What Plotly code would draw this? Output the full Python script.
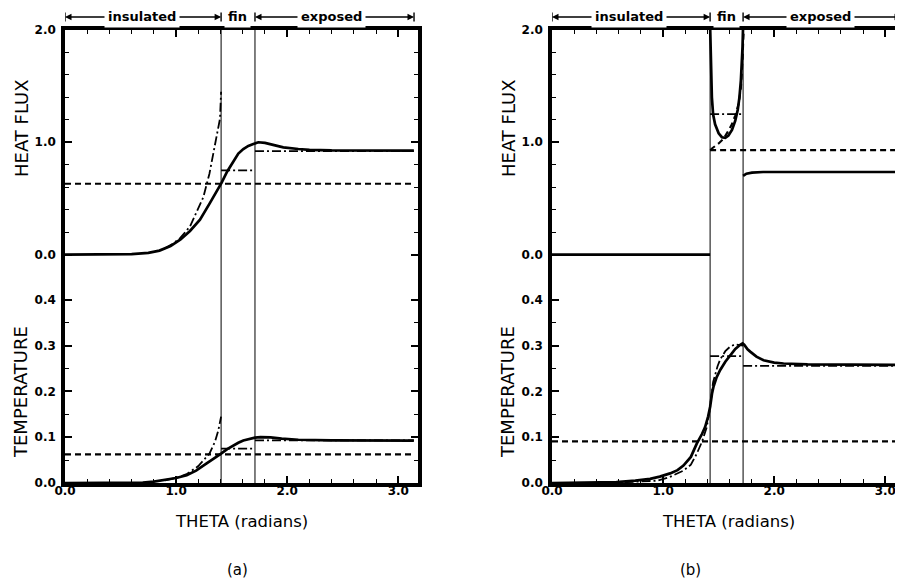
import plotly.graph_objects as go

# ---------------- data (theta in radians) ----------------
fin_edges_a = [1.405, 1.71]
fin_edges_b = [1.423, 1.72]
theta_end = 3.1416

# Panel (a) - heat flux
a_flux_solid_theta = [0.0, 0.3, 0.6, 0.75, 0.85, 0.95, 1.04, 1.125, 1.215, 1.305, 1.41, 1.46, 1.515,
                      1.56, 1.605, 1.65, 1.695, 1.74, 1.8, 1.88, 1.965, 2.1, 2.2, 2.4, 2.7, 3.14]
a_flux_solid = [0.0, 0.0, 0.003, 0.015, 0.035, 0.075, 0.135, 0.21, 0.31, 0.46, 0.64, 0.74, 0.835,
                0.9, 0.94, 0.968, 0.985, 1.0, 0.995, 0.975, 0.955, 0.94, 0.932, 0.927, 0.925, 0.925]
a_flux_dashed_theta = [0.0, 3.14]
a_flux_dashed = [0.63, 0.63]
a_flux_dd_ins_theta = [0.9, 0.97, 1.04, 1.125, 1.185, 1.245, 1.3, 1.35, 1.395, 1.405]
a_flux_dd_ins = [0.055, 0.095, 0.15, 0.25, 0.38, 0.51, 0.72, 0.97, 1.21, 1.45]
a_flux_dd_fin_theta = [1.405, 1.71]
a_flux_dd_fin = [0.75, 0.75]
a_flux_dd_exp_theta = [1.71, 3.14]
a_flux_dd_exp = [0.922, 0.922]

# Panel (a) - temperature
a_temp_solid_theta = [0.0, 0.5, 0.7, 0.8, 0.915, 1.0, 1.095, 1.18, 1.275, 1.34, 1.405, 1.46, 1.515,
                      1.56, 1.605, 1.66, 1.71, 1.76, 1.85, 1.95, 2.1, 2.4, 3.14]
a_temp_solid = [0.0, 0.0, 0.001, 0.003, 0.007, 0.011, 0.017, 0.027, 0.043, 0.053, 0.064, 0.074, 0.082,
                0.088, 0.093, 0.097, 0.099, 0.1, 0.0995, 0.097, 0.0945, 0.093, 0.0925]
a_temp_dashed_theta = [0.0, 3.14]
a_temp_dashed = [0.0625, 0.0625]
a_temp_dd_ins_theta = [0.9, 1.0, 1.1, 1.2, 1.3, 1.35, 1.38, 1.405]
a_temp_dd_ins = [0.006, 0.011, 0.02, 0.037, 0.064, 0.09, 0.115, 0.145]
a_temp_dd_fin_theta = [1.405, 1.71]
a_temp_dd_fin = [0.075, 0.075]
a_temp_dd_exp_theta = [1.71, 3.14]
a_temp_dd_exp = [0.093, 0.093]

# Panel (b) - heat flux
b_flux_solid_ins_theta = [0.0, 1.423]
b_flux_solid_ins = [0.0, 0.0]
b_flux_solid_fin_theta = [1.424, 1.43, 1.439, 1.45, 1.468, 1.5, 1.529, 1.56, 1.588, 1.62, 1.649,
                          1.672, 1.687, 1.7, 1.709, 1.715, 1.719]
b_flux_solid_fin = [2.0, 1.65, 1.40, 1.25, 1.16, 1.08, 1.045, 1.04, 1.06, 1.11, 1.19,
                    1.29, 1.40, 1.55, 1.70, 1.85, 2.0]
b_flux_solid_exp_theta = [1.72, 1.75, 1.8, 1.9, 2.1, 3.2]
b_flux_solid_exp = [0.70, 0.72, 0.73, 0.735, 0.735, 0.735]
b_flux_dashed_theta = [1.423, 3.2]
b_flux_dashed = [0.93, 0.93]
b_flux_dashed_fin_theta = [1.425, 1.44, 1.5, 1.543, 1.58, 1.619, 1.65, 1.68, 1.70, 1.709, 1.716,
                           1.721, 1.726]
b_flux_dashed_fin = [0.93, 0.945, 0.99, 1.03, 1.09, 1.16, 1.24, 1.34, 1.48, 1.61, 1.75, 1.9, 2.0]
b_flux_dd_fin_theta = [1.423, 1.72]
b_flux_dd_fin = [1.25, 1.25]

# Panel (b) - temperature
b_temp_solid_theta = [0.0, 0.3, 0.58, 0.75, 0.883, 0.97, 1.063, 1.13, 1.183, 1.25, 1.303, 1.35, 1.378,
                      1.405, 1.423, 1.44, 1.453, 1.48, 1.514, 1.56, 1.604, 1.65, 1.694, 1.715, 1.73,
                      1.76, 1.784, 1.84, 1.904, 2.0, 2.084, 2.3, 3.2]
b_temp_solid = [0.0, 0.0005, 0.002, 0.005, 0.009, 0.014, 0.021, 0.028, 0.038, 0.057, 0.086, 0.107, 0.122,
                0.145, 0.166, 0.195, 0.21, 0.23, 0.247, 0.265, 0.28, 0.293, 0.302, 0.305, 0.302,
                0.292, 0.287, 0.276, 0.268, 0.263, 0.261, 0.259, 0.258]
b_temp_dashed_theta = [0.0, 3.2]
b_temp_dashed = [0.091, 0.091]
b_temp_dd_theta = [0.5, 0.943, 1.05, 1.183, 1.25, 1.303, 1.35, 1.393, 1.423, 1.45, 1.49, 1.514,
                   1.56, 1.604, 1.65, 1.69, 1.72]
b_temp_dd = [0.0, 0.005, 0.012, 0.027, 0.04, 0.064, 0.09, 0.122, 0.166, 0.22, 0.255, 0.27,
             0.288, 0.298, 0.303, 0.302, 0.30]
b_temp_dd_fin_theta = [1.423, 1.72]
b_temp_dd_fin = [0.277, 0.277]
b_temp_dd_exp_theta = [1.72, 3.2]
b_temp_dd_exp = [0.256, 0.256]

x_ticks = [0.0, 1.0, 2.0, 3.0]
region_labels = ["insulated", "fin", "exposed"]

# ---------------- figure ----------------
W, H = 903, 588
OX, OY = 8, 8          # page body margin offset of the plot div
FONT = "DejaVu Sans"
SOLID = dict(color="black", width=2.7)
DASHED = dict(color="black", width=2.1, dash="6px,4px")
DASHDOT = dict(color="black", width=1.8, dash="9px,3px,2px,3px")


def PX(p):
    return (p - OX) / W


def PY(p):
    return 1 - (p - OY) / H


fig = go.Figure()


def add(xs, ys, line, xa, ya):
    fig.add_trace(go.Scatter(x=xs, y=ys, mode="lines", line=line, xaxis=xa, yaxis=ya,
                             hoverinfo="skip", showlegend=False))


# panel (a)
add(a_flux_dashed_theta, a_flux_dashed, DASHED, "x", "y")
add(a_flux_dd_ins_theta, a_flux_dd_ins, DASHDOT, "x", "y")
add(a_flux_dd_fin_theta, a_flux_dd_fin, DASHDOT, "x", "y")
add(a_flux_dd_exp_theta, a_flux_dd_exp, DASHDOT, "x", "y")
add(a_flux_solid_theta, a_flux_solid, SOLID, "x", "y")
add(a_temp_dashed_theta, a_temp_dashed, DASHED, "x2", "y2")
add(a_temp_dd_ins_theta, a_temp_dd_ins, DASHDOT, "x2", "y2")
add(a_temp_dd_fin_theta, a_temp_dd_fin, DASHDOT, "x2", "y2")
add(a_temp_dd_exp_theta, a_temp_dd_exp, DASHDOT, "x2", "y2")
add(a_temp_solid_theta, a_temp_solid, SOLID, "x2", "y2")

# panel (b)
add(b_flux_dashed_theta, b_flux_dashed, DASHED, "x3", "y3")
add(b_flux_dashed_fin_theta, b_flux_dashed_fin, DASHED, "x3", "y3")
add(b_flux_dd_fin_theta, b_flux_dd_fin, DASHDOT, "x3", "y3")
add(b_flux_solid_ins_theta, b_flux_solid_ins, SOLID, "x3", "y3")
add(b_flux_solid_fin_theta, b_flux_solid_fin, SOLID, "x3", "y3")
add(b_flux_solid_exp_theta, b_flux_solid_exp, SOLID, "x3", "y3")
add(b_temp_dashed_theta, b_temp_dashed, DASHED, "x4", "y4")
add(b_temp_dd_theta, b_temp_dd, DASHDOT, "x4", "y4")
add(b_temp_dd_fin_theta, b_temp_dd_fin, DASHDOT, "x4", "y4")
add(b_temp_dd_exp_theta, b_temp_dd_exp, DASHDOT, "x4", "y4")
add(b_temp_solid_theta, b_temp_solid, SOLID, "x4", "y4")

xa_dom = [PX(65), PX(418)]
xb_dom = [PX(552), PX(905)]
yu_dom = [PY(277), PY(30)]
yl_dom = [PY(483), PY(277)]
x_range = [0, 353 / 111.1]

tickfont = dict(family=FONT, size=12, color="black", weight="bold")
common = dict(showline=True, linewidth=3.5, linecolor="black", showgrid=False, zeroline=False,
              ticks="inside", ticklen=7, tickwidth=1.5, tickcolor="black", tickfont=tickfont,
              fixedrange=True, automargin=False)


def xaxis(dom, anchor, top):
    d = dict(common, domain=dom, range=x_range, anchor=anchor, tickmode="array", tickvals=x_ticks,
             tickformat=".1f",
             minor=dict(ticks="inside", ticklen=4, tickwidth=1.2, tickcolor="black", dtick=0.2, tick0=0))
    if top:
        d.update(side="top", showticklabels=False)
    else:
        d.update(side="bottom", ticklabelstandoff=-6)
    return d


def yaxis(dom, rng, anchor, dtick, mdtick):
    return dict(common, domain=dom, range=rng, anchor=anchor, dtick=dtick, tick0=0, tickformat=".1f",
                mirror="ticks", ticklabelstandoff=3,
                minor=dict(ticks="inside", ticklen=4, tickwidth=1.2, tickcolor="black", dtick=mdtick, tick0=0))


fig.update_layout(
    width=W, height=H, margin=dict(l=0, r=0, t=0, b=0, pad=0, autoexpand=False),
    paper_bgcolor="white", plot_bgcolor="white", showlegend=False,
    xaxis=xaxis(xa_dom, "y", True),
    yaxis=yaxis(yu_dom, [-0.2, 2.0], "x", 1.0, 0.2),
    xaxis2=xaxis(xa_dom, "y2", False),
    yaxis2=yaxis(yl_dom, [0, 0.45], "x2", 0.1, 0.05),
    xaxis3=xaxis(xb_dom, "y3", True),
    yaxis3=yaxis(yu_dom, [-0.2, 2.0], "x3", 1.0, 0.2),
    xaxis4=xaxis(xb_dom, "y4", False),
    yaxis4=yaxis(yl_dom, [0, 0.45], "x4", 0.1, 0.05),
)

shapes = []
annotations = []
y_arrow = PY(17)
bar_lo, bar_hi = PY(21.5), PY(12.5)
textfont = dict(family=FONT, size=13, color="black", weight="bold")

for xref, edges, lab_x in [("x", fin_edges_a, [0.69, 1.555, 2.40]), ("x3", fin_edges_b, [0.69, 1.57, 2.415])]:
    for xv in edges:
        shapes.append(dict(type="line", xref=xref, yref="paper", x0=xv, x1=xv,
                           y0=yl_dom[0], y1=yu_dom[1], line=dict(color="black", width=1)))
    for xv in [0.0, edges[0], edges[1], theta_end]:
        shapes.append(dict(type="line", xref=xref, yref="paper", x0=xv, x1=xv,
                           y0=bar_lo, y1=bar_hi, line=dict(color="black", width=1.4)))
    for head, tail in [(0.0, lab_x[0]), (edges[0], lab_x[0]), (edges[1], lab_x[2]), (theta_end, lab_x[2])]:
        annotations.append(dict(xref=xref, yref="paper", x=head, y=y_arrow, text="", showarrow=True,
                                axref=xref, ax=tail, ayref="pixel", ay=0, arrowhead=2, arrowsize=1,
                                arrowwidth=1.3, arrowcolor="black", standoff=0, startstandoff=0))
    for txt, xv in zip(region_labels, lab_x):
        annotations.append(dict(xref=xref, yref="paper", x=xv, y=y_arrow, text=txt, showarrow=False,
                                font=textfont, bgcolor="white", borderpad=3,
                                xanchor="center", yanchor="middle"))

titlefont = dict(family=FONT, size=18, color="black")
for px in [21, 508]:
    annotations.append(dict(xref="paper", yref="paper", x=PX(px), y=PY(128), text="HEAT FLUX",
                            textangle=-90, showarrow=False, font=titlefont,
                            xanchor="center", yanchor="middle"))
    annotations.append(dict(xref="paper", yref="paper", x=PX(px), y=PY(392), text="TEMPERATURE",
                            textangle=-90, showarrow=False, font=titlefont,
                            xanchor="center", yanchor="middle"))
for px in [241, 728]:
    annotations.append(dict(xref="paper", yref="paper", x=PX(px), y=PY(521), text="THETA (radians)",
                            showarrow=False, font=dict(family=FONT, size=16.5, color="black"),
                            xanchor="center", yanchor="middle"))
for px, lab in [(237, "(a)"), (690, "(b)")]:
    annotations.append(dict(xref="paper", yref="paper", x=PX(px), y=PY(570), text=lab,
                            showarrow=False, font=dict(family=FONT, size=15, color="black"),
                            xanchor="center", yanchor="middle"))

fig.update_layout(shapes=shapes, annotations=annotations)
fig.write_html("out.html")
